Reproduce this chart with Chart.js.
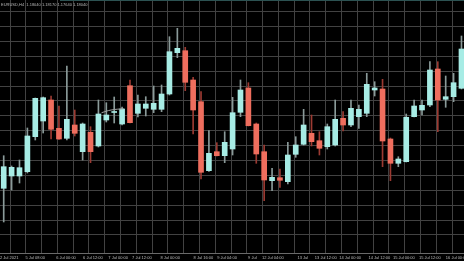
<!DOCTYPE html>
<html>
<head>
<meta charset="utf-8">
<script src="https://cdn.jsdelivr.net/npm/chart.js@4"></script>
<style>
  html, body { margin: 0; padding: 0; background: #000; }
  #wrap { width: 464px; height: 261px; }
</style>
</head>
<body>
<div id="wrap"><canvas id="chart" width="464" height="261"></canvas></div>
<script>
// bar -1 is the one cut off at the left edge
const firstBar = -1;

const opens = [1.16480, 1.16647, 1.16770, 1.16770, 1.16813, 1.17163, 1.17320, 1.17530, 1.17247, 1.17147,
  1.17280, 1.17013, 1.17207, 1.17070, 1.17330, 1.17405, 1.17290, 1.17673, 1.17397, 1.17447,
  1.17437, 1.17437, 1.17590, 1.18003, 1.18023, 1.17730, 1.17513, 1.16823, 1.17013, 1.16973,
  1.17040, 1.17407, 1.17650, 1.17290, 1.17013, 1.16723, 1.16753, 1.16713, 1.16987, 1.17087,
  1.17197, 1.17123, 1.17063, 1.17080, 1.17347, 1.17280, 1.17363, 1.17397, 1.17630, 1.17640,
  1.17140, 1.16897, 1.16913, 1.17363, 1.17430, 1.17480, 1.17840, 1.17537, 1.17563, 1.17647];

const highs = [1.16530, 1.16973, 1.16870, 1.16930, 1.17250, 1.17550, 1.17560, 1.17570, 1.17470, 1.17870,
  1.17430, 1.17300, 1.17263, 1.17530, 1.17503, 1.17560, 1.17460, 1.17730, 1.17580, 1.17563,
  1.17670, 1.17680, 1.18163, 1.18247, 1.18057, 1.17757, 1.17613, 1.17223, 1.17103, 1.17213,
  1.17557, 1.17730, 1.17703, 1.17300, 1.17080, 1.16847, 1.16840, 1.17107, 1.17163, 1.17437,
  1.17380, 1.17213, 1.17290, 1.17530, 1.17413, 1.17530, 1.17480, 1.17797, 1.17713, 1.17737,
  1.17150, 1.16963, 1.17390, 1.17530, 1.17530, 1.17913, 1.17913, 1.17770, 1.17797, 1.18170];

const lows = [1.16270, 1.16310, 1.16630, 1.16700, 1.16800, 1.17130, 1.17200, 1.17140, 1.17135, 1.17130,
  1.17170, 1.16930, 1.16903, 1.17060, 1.17310, 1.17300, 1.17280, 1.17300, 1.17360, 1.17370,
  1.17403, 1.17413, 1.17580, 1.17953, 1.17623, 1.17190, 1.16740, 1.16815, 1.16970, 1.16903,
  1.16980, 1.17363, 1.17270, 1.16897, 1.16523, 1.16623, 1.16657, 1.16690, 1.16957, 1.17080,
  1.17070, 1.16980, 1.17040, 1.17070, 1.17220, 1.17263, 1.17247, 1.17363, 1.17570, 1.16863,
  1.16723, 1.16863, 1.16910, 1.17360, 1.17380, 1.17463, 1.17213, 1.17457, 1.17513, 1.17640];

const closes = [1.16310, 1.16863, 1.16857, 1.16853, 1.17170, 1.17547, 1.17553, 1.17237, 1.17140, 1.17337,
  1.17197, 1.17290, 1.17013, 1.17390, 1.17380, 1.17415, 1.17440, 1.17303, 1.17490, 1.17490,
  1.17497, 1.17590, 1.18013, 1.18047, 1.17707, 1.17430, 1.16807, 1.16997, 1.16973, 1.17107,
  1.17403, 1.17630, 1.17273, 1.16990, 1.16730, 1.16757, 1.16727, 1.16980, 1.17080, 1.17280,
  1.17113, 1.17047, 1.17263, 1.17337, 1.17280, 1.17447, 1.17437, 1.17687, 1.17650, 1.17120,
  1.16897, 1.16940, 1.17357, 1.17470, 1.17477, 1.17830, 1.17530, 1.17563, 1.17703, 1.18040];

// short grey line over bars 12-15
const trendBars = [12.4, 13.6, 15.2];
const trendValues = [1.17403, 1.17430, 1.17443];

const tickBars = [0.7, 4, 7.9, 11.3, 14.5, 17.5, 21.1, 25.3, 28.3, 31.5, 34.1, 37.9, 40.8, 43.9, 47.6, 50.7, 54, 57.4];
const tickLabels = ['2 Jul 2021', '5 Jul 08:00', '6 Jul 00:00', '6 Jul 12:00', '7 Jul 00:00', '7 Jul 12:00',
  '8 Jul 00:00', '8 Jul 16:00', '9 Jul 04:00', '9 Jul', '12 Jul 04:00', '13 Jul',
  '13 Jul 12:00', '14 Jul 00:00', '14 Jul 12:00', '15 Jul 00:00', '15 Jul 12:00', '16 Jul 00:00'];

const headerText = 'EURUSD,H4  1.18040 1.18170 1.17640 1.18040';

const priceMin = 1.1600, priceMax = 1.1853, priceGrid = 1.1618, priceStep = 0.00149;
const barMin = -0.47, barMax = 58.32;

const UP = '#a7ece5', DOWN = '#ef6e5e';
const UP_WICK = '#8a9a99', DOWN_WICK = '#9c3a32';

function isUp(i) { return closes[i] >= opens[i]; }

const wickData = opens.map((o, i) => ({ x: firstBar + i, y: [lows[i], highs[i]] }));
const bodyData = opens.map((o, i) => ({ x: firstBar + i, y: [o, closes[i]] }));

const headerPlugin = {
  id: 'header',
  afterDraw(chart) {
    const ctx = chart.ctx;
    ctx.save();
    ctx.strokeStyle = '#2c5252';
    ctx.lineWidth = 1;
    ctx.beginPath();
    ctx.moveTo(60, 0.5);
    ctx.lineTo(464, 0.5);
    ctx.stroke();
    ctx.fillStyle = '#b8b8b8';
    ctx.font = '4px "Liberation Sans", sans-serif';
    ctx.textBaseline = 'middle';
    ctx.fillText(headerText, 1, 5);
    ctx.restore();
  }
};

function noPad(s) {
  s.paddingLeft = 0;
  s.paddingRight = 0;
  s.paddingTop = 0;
  s.paddingBottom = 0;
}

new Chart(document.getElementById('chart').getContext('2d'), {
  type: 'bar',
  data: {
    datasets: [
      {
        type: 'line',
        data: trendBars.map((b, i) => ({ x: b, y: trendValues[i] })),
        borderColor: '#a0a0a0',
        borderWidth: 1,
        pointRadius: 0,
        tension: 0.4,
        order: 0
      },
      {
        data: bodyData,
        backgroundColor: opens.map((o, i) => isUp(i) ? UP : DOWN),
        borderWidth: 0,
        barThickness: 5,
        minBarLength: 1,
        grouped: false,
        order: 1
      },
      {
        data: wickData,
        backgroundColor: opens.map((o, i) => isUp(i) ? UP_WICK : DOWN_WICK),
        borderWidth: 0,
        barThickness: 1,
        grouped: false,
        order: 2
      }
    ]
  },
  options: {
    responsive: false,
    animation: false,
    devicePixelRatio: 1,
    layout: { padding: 0 },
    plugins: { legend: { display: false }, tooltip: { enabled: false } },
    scales: {
      x: {
        type: 'linear',
        position: 'bottom',
        min: barMin,
        max: barMax,
        offset: false,
        grid: { color: '#424242', offset: false, drawTicks: false },
        border: { display: false },
        ticks: { display: false },
        afterBuildTicks: s => {
          const t = [];
          for (let v = 0.8; v < barMax; v += 2) t.push({ value: v });
          s.ticks = t;
        },
        afterFit: s => { s.height = 0; noPad(s); }
      },
      x2: {
        type: 'linear',
        position: 'bottom',
        min: barMin,
        max: barMax,
        offset: false,
        grid: { display: false, drawTicks: false },
        border: { display: true, color: '#6a6a6a', width: 1 },
        ticks: {
          color: '#bdbdbd',
          font: { size: 4, family: '"Liberation Sans", sans-serif' },
          padding: 2,
          autoSkip: false,
          maxRotation: 0,
          callback: (v, i) => tickLabels[i]
        },
        afterBuildTicks: s => { s.ticks = tickBars.map(v => ({ value: v })); },
        afterFit: s => { s.height = 8; noPad(s); }
      },
      y: {
        type: 'linear',
        min: priceMin,
        max: priceMax,
        grid: { color: '#424242', drawTicks: false },
        border: { display: false },
        ticks: { display: false },
        afterBuildTicks: s => {
          const t = [];
          for (let v = priceGrid; v < priceMax; v += priceStep) t.push({ value: v });
          s.ticks = t;
        },
        afterFit: s => { s.width = 0; noPad(s); }
      }
    }
  },
  plugins: [headerPlugin]
});
</script>
</body>
</html>
